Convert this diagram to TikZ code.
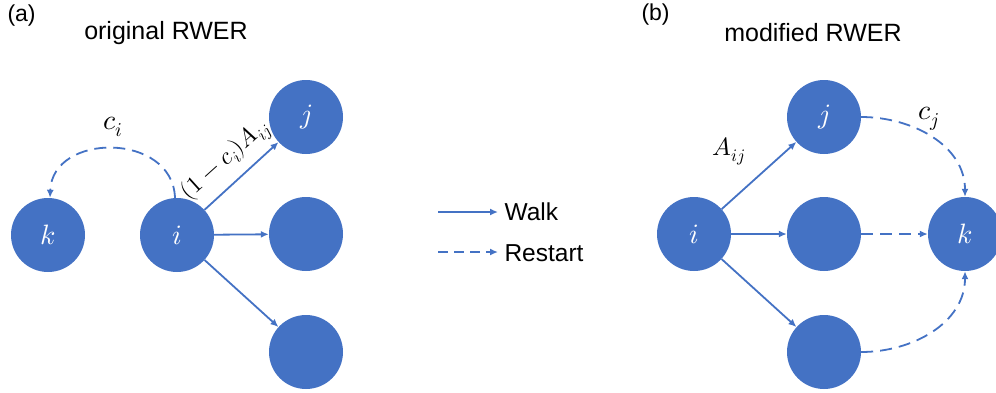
\documentclass[tikz,border=0pt]{standalone}
\usepackage{fontspec}
\usepackage{unicode-math}
\setmainfont{Liberation Sans}
\setmathfont{Latin Modern Math}
\usetikzlibrary{arrows.meta}
\definecolor{nb}{HTML}{4472C4}
\begin{document}
\begin{tikzpicture}[x=1pt,y=-1pt,
  nd/.style={circle,fill=nb,minimum size=74pt,inner sep=0pt,text=white,font=\fontsize{28}{30}\selectfont},
  walk/.style={draw=nb,line width=1.8pt,-{Latex[length=8pt,width=7pt]}},
  rst/.style={walk,dash pattern=on 12pt off 7pt},
  lbl/.style={font=\fontsize{28}{30}\selectfont},
  ttl/.style={font=\fontsize{25}{28}\selectfont},
  leg/.style={font=\fontsize{24.5}{28}\selectfont,anchor=west},
  tag/.style={font=\fontsize{23}{26}\selectfont,anchor=west}]
\useasboundingbox (0,0) rectangle (996,392);
% titles
\node[tag] (ta) at (4,16) {(a)};
\node[ttl] (tta) at (166,33) {original RWER};
\node[tag] (tb) at (638,15) {(b)};
\node[ttl] (ttb) at (813,33) {modified RWER};
% left panel
\node[nd] (k1) at (48,235) {$k$};
\node[nd] (i1) at (177,235) {$i$};
\node[nd] (j1) at (306,117) {$j$};
\node[nd] (m1) at (306,234) {};
\node[nd] (b1) at (306,352) {};
\draw[walk] (i1) -- (j1);
\draw[walk] (i1) -- (m1);
\draw[walk] (i1) -- (b1);
\draw[rst] ([xshift=-2pt]i1.north) to[out=92,in=88,looseness=1.35] ([xshift=2pt]k1.north);
\node[lbl] (ci) at (113,127) {$c_i$};
\node[font=\fontsize{24}{26}\selectfont,rotate=42] (cij) at (226,161) {$(1-c_i)A_{ij}$};
% legend
\coordinate (w1) at (438,212);
\coordinate (w2) at (498,212);
\coordinate (r1) at (438,252);
\coordinate (r2) at (498,252);
\draw[walk] (w1) -- (w2);
\draw[rst,dash pattern=on 10pt off 6pt] (r1) -- (r2);
\node[leg] (wt) at (501,212) {Walk};
\node[leg] (rt) at (501,253) {Restart};
% right panel
\node[nd] (i2) at (694,234) {$i$};
\node[nd] (j2) at (824,117) {$j$};
\node[nd] (m2) at (824,234) {};
\node[nd] (b2) at (824,352) {};
\node[nd] (k2) at (965,234) {$k$};
\draw[walk] (i2) -- (j2);
\draw[walk] (i2) -- (m2);
\draw[walk] (i2) -- (b2);
\draw[rst] (j2.east) to[out=0,in=90] (k2.north);
\draw[rst] (m2) -- (k2);
\draw[rst] (b2.east) to[out=0,in=-90] (k2.south);
\node[font=\fontsize{25}{28}\selectfont] (aij) at (729,151) {$A_{ij}$};
\node[lbl] (cj) at (929,119) {$c_j$};
\end{tikzpicture}
\end{document}
